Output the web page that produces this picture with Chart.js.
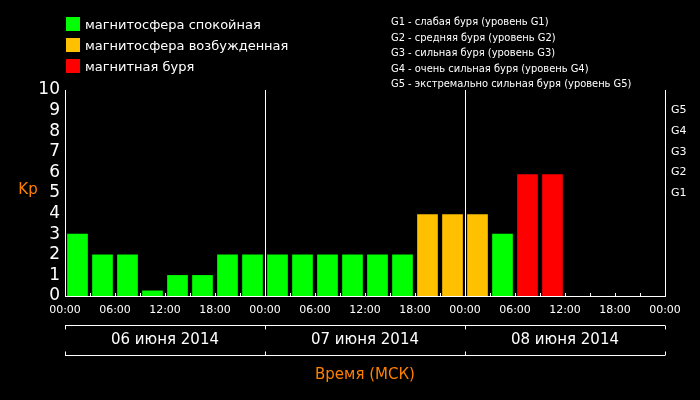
<!DOCTYPE html>
<html><head><meta charset="utf-8">
<script src="https://cdn.jsdelivr.net/npm/chart.js@4"></script>
<style>
body{margin:0;background:#000;}
#wrap{position:relative;width:700px;height:400px;background:#000;font-family:"DejaVu Sans",sans-serif;}
canvas{position:absolute;left:0;top:0;}
.lg{position:absolute;left:66px;color:#fff;font-size:13px;}
.lg span{display:inline-block;width:14px;height:14px;vertical-align:-2px;margin-right:5px;}
#gs{position:absolute;left:391px;top:14px;color:#fff;font-size:11px;line-height:15.5px;font-family:"DejaVu Sans Condensed","Liberation Sans",sans-serif;}
</style></head><body>
<div id="wrap">
<canvas id="c" width="700" height="400"></canvas>
<div class="lg" style="top:17px"><span style="background:#00ff00"></span>магнитосфера спокойная</div>
<div class="lg" style="top:38px"><span style="background:#ffc000"></span>магнитосфера возбужденная</div>
<div class="lg" style="top:59px"><span style="background:#ff0000"></span>магнитная буря</div>
<div id="gs">G1 - слабая буря (уровень G1)<br>G2 - средняя буря (уровень G2)<br>G3 - сильная буря (уровень G3)<br>G4 - очень сильная буря (уровень G4)<br>G5 - экстремально сильная буря (уровень G5)</div>
</div>
<script>
const kpValues=[3,2,2,0.25,1,1,2,2, 2,2,2,2,2,2,3.95,3.95, 3.95,3,5.9,5.9];
const dayLabels=["06 июня 2014","07 июня 2014","08 июня 2014"];
const gLabels=["G1","G2","G3","G4","G5"];
const yTicks=[0,1,2,3,4,5,6,7,8,9,10];
function col(v){return v>=5?"#ff0000":(v>=3.9?"#ffc000":"#00ff00");}
const data=kpValues.map((v,i)=>({x:i+0.5,y:v}));
const deco={id:"deco",afterDraw(ch){
 const c=ch.ctx,x=ch.scales.x,a=ch.chartArea;
 c.save();c.strokeStyle="#fff";c.lineWidth=1;
 for(let i=1;i<24;i++){const px=Math.round(x.getPixelForValue(i))+0.5;c.beginPath();c.moveTo(px,a.bottom);c.lineTo(px,a.bottom-3);c.stroke();}
 const y1=325.5,y2=355.5,x0=x.getPixelForValue(0),x3=x.getPixelForValue(24);
 c.beginPath();c.moveTo(x0,y1);c.lineTo(x3,y1);c.moveTo(x0,y2);c.lineTo(x3,y2);
 for(let d=0;d<=3;d++){const px=Math.round(x.getPixelForValue(d*8))+0.5;c.moveTo(px,y1);c.lineTo(px,y1+4);c.moveTo(px,y2);c.lineTo(px,y2-4);}
 c.stroke();
 c.fillStyle="#fff";c.font="15px 'DejaVu Sans'";c.textAlign="center";c.textBaseline="middle";
 dayLabels.forEach((t,d)=>c.fillText(t,x.getPixelForValue(d*8+4),340));
 c.fillStyle="#ff8000";c.fillText("Время (МСК)",365,375);
 c.fillText("Kp",28,190);
 c.restore();}};
new Chart(document.getElementById("c"),{type:"bar",
 data:{datasets:[{data:data,backgroundColor:kpValues.map(col),barThickness:20,borderWidth:0}]},
 options:{responsive:false,animation:false,plugins:{legend:{display:false},tooltip:{enabled:false}},
 layout:{padding:{top:90,bottom:0,left:0,right:0}},
 scales:{
  x:{type:"linear",min:0,max:24,offset:false,afterFit:s=>{s.height=104;},
   ticks:{stepSize:2,color:"#fff",font:{size:11,family:"DejaVu Sans"},maxRotation:0,autoSkip:false,padding:8,
    callback:v=>String((v*3)%24).padStart(2,"0")+":00"},
   grid:{offset:false,color:c=>(c.tick&&c.tick.value%8===0&&c.tick.value>0&&c.tick.value<24)?"#fff":"rgba(0,0,0,0)",drawTicks:false,lineWidth:1},
   border:{color:"#fff"}},
  y:{min:0,max:10,afterFit:s=>{s.width=65;},afterBuildTicks:s=>{s.ticks=yTicks.map(v=>({value:v}));},
   ticks:{color:"#fff",font:{size:17,family:"DejaVu Sans"},padding:5,autoSkip:false},
   grid:{display:false,drawTicks:false},border:{color:"#fff"}},
  y1:{position:"right",min:0,max:10,afterFit:s=>{s.width=35;},afterBuildTicks:s=>{s.ticks=[5,6,7,8,9].map(v=>({value:v}));},
   ticks:{color:"#fff",font:{size:11,family:"DejaVu Sans"},padding:6,autoSkip:false,callback:v=>gLabels[v-5]},
   grid:{display:false,drawTicks:false},border:{color:"#fff"}}
 }},plugins:[deco]});
</script></body></html>
